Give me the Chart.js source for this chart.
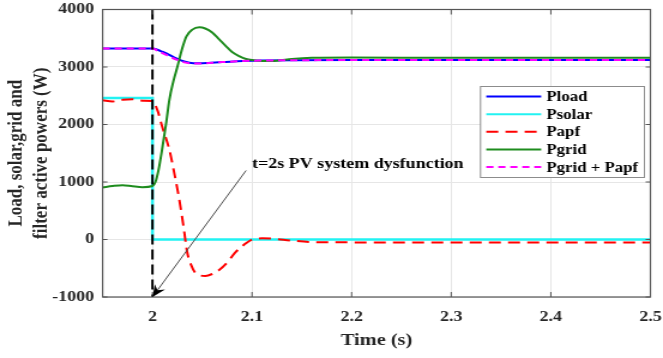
<!DOCTYPE html>
<html lang="en">
<head>
    <meta charset="UTF-8">
    <title>Load, solar, grid and filter active powers</title>
    <script src="https://cdn.jsdelivr.net/npm/chart.js"></script>
    <style>
        body {
            margin: 0;
            background-color: #ffffff;
        }
    </style>
</head>
<body>

<!-- the reference raster is stretched about 1.2x horizontally -->
<canvas id="powerChart" width="553" height="358" style="width:663px;height:358px;display:block"></canvas>

<script>
// axis ticks
const xTickValues = [2, 2.1, 2.2, 2.3, 2.4, 2.5];
const yTickValues = [-1000, 0, 1000, 2000, 3000, 4000];

// Pload and Pgrid + Papf (W)
const tLoad = [1.95, 2.0, 2.005, 2.01, 2.015, 2.024, 2.032, 2.041, 2.05, 2.07, 2.1, 2.2, 2.3, 2.4, 2.5];
const pLoad = [3320, 3320, 3300, 3265, 3230, 3150, 3095, 3065, 3065, 3085, 3110, 3120, 3120, 3120, 3120];
const pSum  = [3320, 3320, 3285, 3240, 3200, 3130, 3080, 3060, 3062, 3085, 3110, 3120, 3120, 3120, 3120];

// Psolar (W)
const tSolar = [1.95, 2.0, 2.0, 2.5];
const pSolar = [2460, 2460, 0, 0];

// Papf (W)
const tApf = [1.95, 1.96, 1.97, 1.98, 1.99, 2.0, 2.005, 2.01, 2.017, 2.022, 2.027, 2.031, 2.035, 2.039,
              2.043, 2.048, 2.053, 2.06, 2.067, 2.075, 2.083, 2.092, 2.1, 2.11, 2.12, 2.14, 2.16, 2.2, 2.3, 2.4, 2.5];
const pApf = [2420, 2400, 2430, 2440, 2415, 2410, 2250, 1950, 1560, 1150, 690, 250, -230, -450,
              -580, -625, -635, -600, -530, -400, -230, -90, 0, 20, 15, -20, -45, -50, -50, -50, -50];

// Pgrid (W)
const tGrid = [1.95, 1.96, 1.97, 1.98, 1.99, 2.0, 2.003, 2.006, 2.01, 2.014, 2.017, 2.021, 2.025, 2.03,
               2.034, 2.04, 2.047, 2.053, 2.06, 2.067, 2.074, 2.08, 2.087, 2.094, 2.1, 2.11, 2.125,
               2.14, 2.16, 2.2, 2.3, 2.4, 2.5];
const pGrid = [905, 930, 945, 925, 910, 930, 1000, 1200, 1600, 2050, 2430, 2750, 3000, 3330,
               3530, 3650, 3690, 3670, 3600, 3480, 3360, 3260, 3190, 3140, 3120, 3105, 3110,
               3140, 3160, 3165, 3160, 3160, 3160];

// t = 2 s event marker
const tEvent = [2.0, 2.0];
const pEvent = [4000, -1000];

const annotation = {
    text: 't=2s PV system dysfunction',
    textAt: [2.1, 1250],
    from: [2.094, 1200],
    to: [2.0, -1000]
};

const serif = '"Liberation Serif", "Times New Roman", serif';

function points(xs, ys) {
    return xs.map((x, i) => ({ x: x, y: ys[i] }));
}

// keep the plot box where the layout padding puts it
function noLabelPadding(axis) {
    axis.paddingLeft = 0;
    axis.paddingRight = 0;
    axis.paddingTop = 0;
    axis.paddingBottom = 0;
}

const extras = {
    id: 'extras',
    afterDraw(chart) {
        const ctx = chart.ctx;
        const ca = chart.chartArea;
        const xs = chart.scales.x;
        const ys = chart.scales.y;
        ctx.save();

        // frame with inside ticks
        ctx.strokeStyle = '#555555';
        ctx.lineWidth = 1.2;
        ctx.strokeRect(ca.left, ca.top, ca.right - ca.left, ca.bottom - ca.top);
        ctx.lineWidth = 1;
        ctx.beginPath();
        xTickValues.forEach(v => {
            const px = xs.getPixelForValue(v);
            ctx.moveTo(px, ca.bottom); ctx.lineTo(px, ca.bottom - 5);
            ctx.moveTo(px, ca.top); ctx.lineTo(px, ca.top + 5);
        });
        yTickValues.forEach(v => {
            const py = ys.getPixelForValue(v);
            ctx.moveTo(ca.left, py); ctx.lineTo(ca.left + 4, py);
            ctx.moveTo(ca.right, py); ctx.lineTo(ca.right - 4, py);
        });
        ctx.stroke();

        // annotation arrow
        const x0 = xs.getPixelForValue(annotation.from[0]);
        const y0 = ys.getPixelForValue(annotation.from[1]);
        const x1 = xs.getPixelForValue(annotation.to[0]);
        const y1 = ys.getPixelForValue(annotation.to[1]);
        ctx.strokeStyle = '#4d4d4d';
        ctx.lineWidth = 1;
        ctx.beginPath();
        ctx.moveTo(x0, y0);
        ctx.lineTo(x1, y1);
        ctx.stroke();
        const ang = Math.atan2(y1 - y0, x1 - x0);
        ctx.fillStyle = '#000000';
        ctx.beginPath();
        ctx.moveTo(x1, y1);
        ctx.lineTo(x1 - 12 * Math.cos(ang) + 5 * Math.sin(ang), y1 - 12 * Math.sin(ang) - 5 * Math.cos(ang));
        ctx.lineTo(x1 - 8 * Math.cos(ang), y1 - 8 * Math.sin(ang));
        ctx.lineTo(x1 - 12 * Math.cos(ang) - 5 * Math.sin(ang), y1 - 12 * Math.sin(ang) + 5 * Math.cos(ang));
        ctx.closePath();
        ctx.fill();

        ctx.font = 'bold 15px ' + serif;
        ctx.fillStyle = '#000000';
        ctx.textBaseline = 'alphabetic';
        ctx.textAlign = 'left';
        ctx.fillText(annotation.text, xs.getPixelForValue(annotation.textAt[0]), ys.getPixelForValue(annotation.textAt[1]));

        // legend box
        const bw = 136.7, bh = 91;
        const bx = ca.right - 141.7, by = ca.top + 77;
        ctx.fillStyle = '#ffffff';
        ctx.fillRect(bx, by, bw, bh);
        ctx.strokeStyle = '#8c8c8c';
        ctx.lineWidth = 1;
        ctx.strokeRect(bx, by, bw, bh);
        ctx.font = 'bold 14px ' + serif;
        ctx.textBaseline = 'middle';
        chart.data.datasets.filter(ds => ds.label).forEach((ds, i) => {
            const ry = by + 10 + i * 17.65;
            ctx.strokeStyle = ds.borderColor;
            ctx.lineWidth = 2;
            ctx.setLineDash(ds.borderDash || []);
            ctx.beginPath();
            ctx.moveTo(bx + 4.8, ry);
            ctx.lineTo(bx + 50.6, ry);
            ctx.stroke();
            ctx.setLineDash([]);
            ctx.fillStyle = '#000000';
            ctx.fillText(ds.label, bx + 55, ry + 1);
        });
        ctx.restore();
    }
};

new Chart(document.getElementById('powerChart'), {
    type: 'line',
    data: {
        datasets: [
            { label: 'Pload', data: points(tLoad, pLoad), borderColor: '#0000ff', borderWidth: 2,
              cubicInterpolationMode: 'monotone', order: 5 },
            { label: 'Psolar', data: points(tSolar, pSolar), borderColor: '#22f2f2', borderWidth: 2.5,
              tension: 0, order: 4 },
            { label: 'Papf', data: points(tApf, pApf), borderColor: '#ff0000', borderWidth: 2,
              borderDash: [10, 6], cubicInterpolationMode: 'monotone', order: 3 },
            { label: 'Pgrid', data: points(tGrid, pGrid), borderColor: '#1e8c1e', borderWidth: 2,
              cubicInterpolationMode: 'monotone', order: 2 },
            { label: 'Pgrid + Papf', data: points(tLoad, pSum), borderColor: '#ff00ff', borderWidth: 2,
              borderDash: [6, 4], cubicInterpolationMode: 'monotone', order: 1 },
            { data: points(tEvent, pEvent), borderColor: '#000000', borderWidth: 2,
              borderDash: [10, 5], tension: 0, order: 0 }
        ]
    },
    options: {
        responsive: false,
        animation: false,
        devicePixelRatio: 1,
        elements: { point: { radius: 0 } },
        layout: { padding: { top: 9.5, right: 10.5, left: 0, bottom: 0 } },
        plugins: {
            legend: { display: false },
            tooltip: { enabled: false }
        },
        scales: {
            x: {
                type: 'linear',
                min: 1.95,
                max: 2.5,
                afterBuildTicks: axis => { axis.ticks = xTickValues.map(v => ({ value: v })); },
                afterFit: axis => { axis.height = 61; noLabelPadding(axis); },
                grid: { color: '#e6e6e6', drawTicks: false },
                border: { display: false },
                ticks: {
                    padding: 11,
                    color: '#262626',
                    font: { family: serif, size: 15, weight: 'bold' },
                    callback: v => String(Math.round(v * 10) / 10)
                },
                title: {
                    display: true,
                    text: 'Time (s)',
                    color: '#262626',
                    font: { family: serif, size: 17, weight: 'bold' },
                    padding: { top: 0, bottom: 7 }
                }
            },
            y: {
                min: -1000,
                max: 4000,
                afterBuildTicks: axis => { axis.ticks = yTickValues.map(v => ({ value: v })); },
                afterFit: axis => { axis.width = 85.6; noLabelPadding(axis); },
                grid: { color: '#e6e6e6', drawTicks: false },
                border: { display: false },
                ticks: {
                    padding: 7,
                    color: '#262626',
                    font: { family: serif, size: 15, weight: 'bold' },
                    callback: v => String(v)
                },
                title: {
                    display: true,
                    text: ['Load, solar,grid and', 'filter active powers (W)'],
                    color: '#262626',
                    font: { family: serif, size: 17, weight: 'bold', lineHeight: 1.22 },
                    padding: { top: 3.5, bottom: 0 }
                }
            }
        }
    },
    plugins: [extras]
});
</script>

</body>
</html>
